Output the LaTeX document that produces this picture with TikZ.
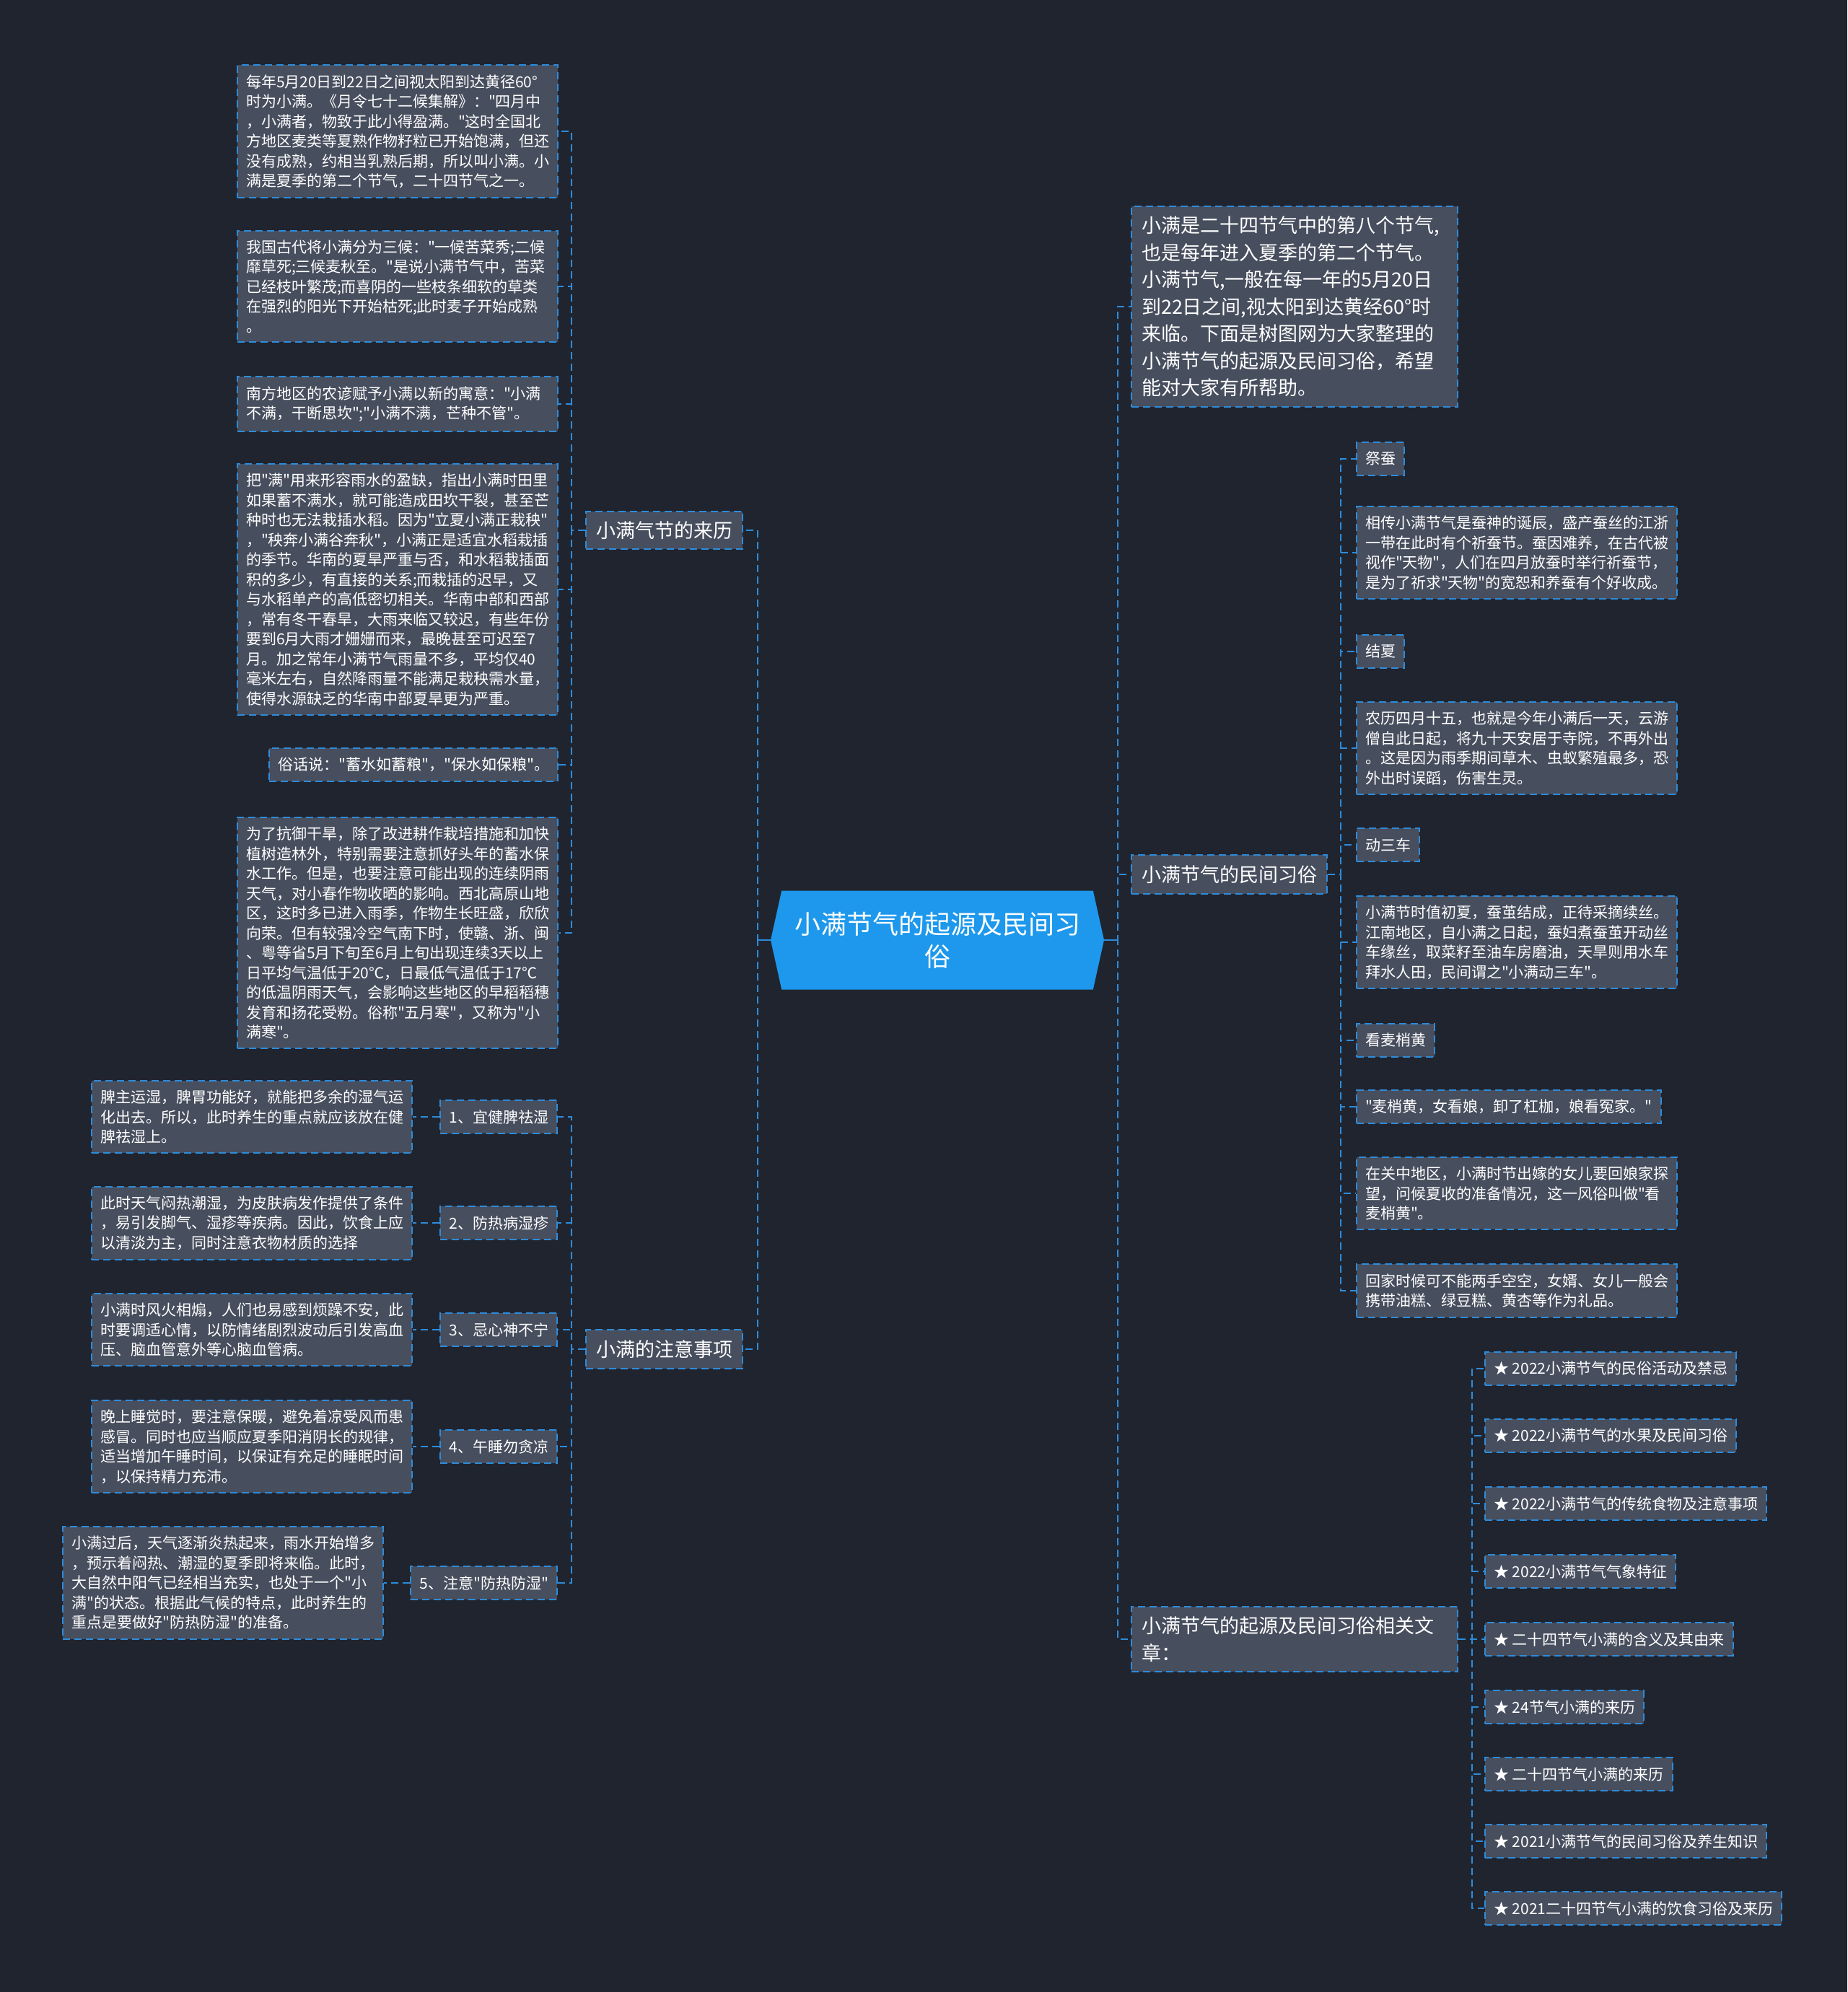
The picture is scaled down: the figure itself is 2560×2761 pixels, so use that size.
\documentclass[tikz,border=0pt]{standalone}
\usepackage{fontspec}
\setmainfont{Noto Sans CJK SC}[Ligatures=TeXOff]
\usepackage{tikz}
\usetikzlibrary{positioning,shapes.symbols}
\definecolor{mfundo}{HTML}{20242F}
\definecolor{mcaixa}{HTML}{474E5E}
\definecolor{mborda}{HTML}{2D8CDB}
\definecolor{mraiz}{HTML}{1D98EC}

\begin{document}
\begin{tikzpicture}[x=0.5pt, y=-0.5pt,
  leafbox/.style={draw=mborda, fill=mcaixa, line width=1pt, dash pattern=on 5pt off 3pt, text=white, font=\fontsize{10.5pt}{13.75pt}\selectfont, inner xsep=6pt, inner ysep=6.5pt, align=left},
  notebox/.style={leafbox, text width=210pt},
  topicbox/.style={leafbox, font=\fontsize{13.5pt}{18.75pt}\selectfont, inner xsep=7pt, inner ysep=7pt},
  widebox/.style={topicbox, text width=212pt},
  rootbox/.style={shape=signal, signal to=east and west, signal pointer angle=155, fill=mraiz, text=white, font=\fontsize{18pt}{22.5pt}\selectfont, align=center, minimum width=231pt, minimum height=68.5pt, inner sep=0pt},
  linkline/.style={draw=mborda, line width=1pt, dash pattern=on 5pt off 3pt}]
\fill[mfundo] (0,0) rectangle (2560,2761);
\useasboundingbox (0,0) rectangle (2560,2761);
% Raiz
\node[rootbox] (root) at (1299,1303) {小满节气的起源及民间习\\俗};
% Ramo esquerdo: origem
\node[topicbox, anchor=east] (origin) at (1030,735) {小满气节的来历};
\node[notebox, anchor=east] (o1) at (774,182) {每年5月20日到22日之间视太阳到达黄径60°\\时为小满。《月令七十二候集解》："四月中\\，小满者，物致于此小得盈满。"这时全国北\\方地区麦类等夏熟作物籽粒已开始饱满，但还\\没有成熟，约相当乳熟后期，所以叫小满。小\\满是夏季的第二个节气，二十四节气之一。};
\node[notebox, anchor=east] (o2) at (774,397) {我国古代将小满分为三候："一候苦菜秀;二候\\靡草死;三候麦秋至。"是说小满节气中，苦菜\\已经枝叶繁茂;而喜阴的一些枝条细软的草类\\在强烈的阳光下开始枯死;此时麦子开始成熟\\。};
\node[notebox, anchor=east] (o3) at (774,560) {南方地区的农谚赋予小满以新的寓意："小满\\不满，干断思坎";"小满不满，芒种不管"。};
\node[notebox, anchor=east] (o4) at (774,817) {把"满"用来形容雨水的盈缺，指出小满时田里\\如果蓄不满水，就可能造成田坎干裂，甚至芒\\种时也无法栽插水稻。因为"立夏小满正栽秧"\\，"秧奔小满谷奔秋"，小满正是适宜水稻栽插\\的季节。华南的夏旱严重与否，和水稻栽插面\\积的多少，有直接的关系;而栽插的迟早，又\\与水稻单产的高低密切相关。华南中部和西部\\，常有冬干春旱，大雨来临又较迟，有些年份\\要到6月大雨才姗姗而来，最晚甚至可迟至7\\月。加之常年小满节气雨量不多，平均仅40\\毫米左右，自然降雨量不能满足栽秧需水量，\\使得水源缺乏的华南中部夏旱更为严重。};
\node[leafbox, anchor=east] (o5) at (774,1060) {俗话说："蓄水如蓄粮"，"保水如保粮"。};
\node[notebox, anchor=east] (o6) at (774,1293) {为了抗御干旱，除了改进耕作栽培措施和加快\\植树造林外，特别需要注意抓好头年的蓄水保\\水工作。但是，也要注意可能出现的连续阴雨\\天气，对小春作物收晒的影响。西北高原山地\\区，这时多已进入雨季，作物生长旺盛，欣欣\\向荣。但有较强冷空气南下时，使赣、浙、闽\\、粤等省5月下旬至6月上旬出现连续3天以上\\日平均气温低于20℃，日最低气温低于17℃\\的低温阴雨天气，会影响这些地区的早稻稻穗\\发育和扬花受粉。俗称"五月寒"，又称为"小\\满寒"。};
% Ramo esquerdo: cuidados
\node[topicbox, anchor=east] (care) at (1030,1870) {小满的注意事项};
\node[leafbox, anchor=east] (q1) at (773,1548) {1、宜健脾祛湿};
\node[leafbox, anchor=east] (q2) at (773,1695) {2、防热病湿疹};
\node[leafbox, anchor=east] (q3) at (773,1843) {3、忌心神不宁};
\node[leafbox, anchor=east] (q4) at (773,2005) {4、午睡勿贪凉};
\node[leafbox, anchor=east] (q5) at (773,2194) {5、注意"防热防湿"};
\node[notebox, left=18.5pt of q1] (qt1) {脾主运湿，脾胃功能好，就能把多余的湿气运\\化出去。所以，此时养生的重点就应该放在健\\脾祛湿上。};
\node[notebox, left=18.5pt of q2] (qt2) {此时天气闷热潮湿，为皮肤病发作提供了条件\\，易引发脚气、湿疹等疾病。因此，饮食上应\\以清淡为主，同时注意衣物材质的选择};
\node[notebox, left=18.5pt of q3] (qt3) {小满时风火相煽，人们也易感到烦躁不安，此\\时要调适心情，以防情绪剧烈波动后引发高血\\压、脑血管意外等心脑血管病。};
\node[notebox, left=18.5pt of q4] (qt4) {晚上睡觉时，要注意保暖，避免着凉受风而患\\感冒。同时也应当顺应夏季阳消阴长的规律，\\适当增加午睡时间，以保证有充足的睡眠时间\\，以保持精力充沛。};
\node[notebox, left=18pt of q5] (qt5) {小满过后，天气逐渐炎热起来，雨水开始增多\\，预示着闷热、潮湿的夏季即将来临。此时，\\大自然中阳气已经相当充实，也处于一个"小\\满"的状态。根据此气候的特点，此时养生的\\重点是要做好"防热防湿"的准备。};
% Ramo direito
\node[widebox, anchor=west] (intro) at (1567,425) {小满是二十四节气中的第八个节气,\\也是每年进入夏季的第二个节气。\\小满节气,一般在每一年的5月20日\\到22日之间,视太阳到达黄经60°时\\来临。下面是树图网为大家整理的\\小满节气的起源及民间习俗，希望\\能对大家有所帮助。};
\node[topicbox, anchor=west] (custom) at (1567,1212) {小满节气的民间习俗};
\node[widebox, anchor=west] (related) at (1567,2272) {小满节气的起源及民间习俗相关文\\章：};
% Costumes
\node[leafbox, anchor=west] (c1) at (1879,636) {祭蚕};
\node[notebox, anchor=west] (c2) at (1879,766) {相传小满节气是蚕神的诞辰，盛产蚕丝的江浙\\一带在此时有个祈蚕节。蚕因难养，在古代被\\视作"天物"，人们在四月放蚕时举行祈蚕节，\\是为了祈求"天物"的宽恕和养蚕有个好收成。};
\node[leafbox, anchor=west] (c3) at (1879,903) {结夏};
\node[notebox, anchor=west] (c4) at (1879,1037) {农历四月十五，也就是今年小满后一天，云游\\僧自此日起，将九十天安居于寺院，不再外出\\。这是因为雨季期间草木、虫蚁繁殖最多，恐\\外出时误蹈，伤害生灵。};
\node[leafbox, anchor=west] (c5) at (1879,1171) {动三车};
\node[notebox, anchor=west] (c6) at (1879,1306) {小满节时值初夏，蚕茧结成，正待采摘续丝。\\江南地区，自小满之日起，蚕妇煮蚕茧开动丝\\车缘丝，取菜籽至油车房磨油，天旱则用水车\\拜水人田，民间谓之"小满动三车"。};
\node[leafbox, anchor=west] (c7) at (1879,1442) {看麦梢黄};
\node[leafbox, anchor=west] (c8) at (1879,1534) {"麦梢黄，女看娘，卸了杠枷，娘看冤家。"};
\node[notebox, anchor=west] (c9) at (1879,1654) {在关中地区，小满时节出嫁的女儿要回娘家探\\望，问候夏收的准备情况，这一风俗叫做"看\\麦梢黄"。};
\node[notebox, anchor=west] (c10) at (1879,1789) {回家时候可不能两手空空，女婿、女儿一般会\\携带油糕、绿豆糕、黄杏等作为礼品。};
% Artigos relacionados
\node[leafbox, anchor=west] (r1) at (2057,1897) {★ 2022小满节气的民俗活动及禁忌};
\node[leafbox, anchor=west] (r2) at (2057,1990) {★ 2022小满节气的水果及民间习俗};
\node[leafbox, anchor=west] (r3) at (2057,2084) {★ 2022小满节气的传统食物及注意事项};
\node[leafbox, anchor=west] (r4) at (2057,2178) {★ 2022小满节气气象特征};
\node[leafbox, anchor=west] (r5) at (2057,2272) {★ 二十四节气小满的含义及其由来};
\node[leafbox, anchor=west] (r6) at (2057,2366) {★ 24节气小满的来历};
\node[leafbox, anchor=west] (r7) at (2057,2459) {★ 二十四节气小满的来历};
\node[leafbox, anchor=west] (r8) at (2057,2552) {★ 2021小满节气的民间习俗及养生知识};
\node[leafbox, anchor=west] (r9) at (2057,2645) {★ 2021二十四节气小满的饮食习俗及来历};
% Ligações da raiz
\draw[mborda, line width=1pt] (root.west) -- ++(-18,0);
\draw[mborda, line width=1pt] (root.east) -- ++(19,0);
\draw[linkline] (root.west) -- ++(-18,0) |- (origin.east);
\draw[linkline] (root.west) -- ++(-18,0) |- (care.east);
\draw[linkline] (root.east) -- ++(19,0) |- (intro.west);
\draw[linkline] (root.east) -- ++(19,0) |- (custom.west);
\draw[linkline] (root.east) -- ++(19,0) |- (related.west);
% Ligações da origem
\draw[linkline] (origin.west) -- ++(-19,0) |- (o1.east);
\draw[linkline] (origin.west) -- ++(-19,0) |- (o2.east);
\draw[linkline] (origin.west) -- ++(-19,0) |- (o3.east);
\draw[linkline] (origin.west) -- ++(-19,0) |- (o4.east);
\draw[linkline] (origin.west) -- ++(-19,0) |- (o5.east);
\draw[linkline] (origin.west) -- ++(-19,0) |- (o6.east);
% Ligações dos cuidados
\draw[linkline] (care.west) -- ++(-19,0) |- (q1.east);
\draw[linkline] (care.west) -- ++(-19,0) |- (q2.east);
\draw[linkline] (care.west) -- ++(-19,0) |- (q3.east);
\draw[linkline] (care.west) -- ++(-19,0) |- (q4.east);
\draw[linkline] (care.west) -- ++(-19,0) |- (q5.east);
\draw[linkline] (q1) -- (qt1);
\draw[linkline] (q2) -- (qt2);
\draw[linkline] (q3) -- (qt3);
\draw[linkline] (q4) -- (qt4);
\draw[linkline] (q5) -- (qt5);
% Ligações dos costumes
\draw[linkline] (custom.east) -- ++(18,0) |- (c1.west);
\draw[linkline] (custom.east) -- ++(18,0) |- (c2.west);
\draw[linkline] (custom.east) -- ++(18,0) |- (c3.west);
\draw[linkline] (custom.east) -- ++(18,0) |- (c4.west);
\draw[linkline] (custom.east) -- ++(18,0) |- (c5.west);
\draw[linkline] (custom.east) -- ++(18,0) |- (c6.west);
\draw[linkline] (custom.east) -- ++(18,0) |- (c7.west);
\draw[linkline] (custom.east) -- ++(18,0) |- (c8.west);
\draw[linkline] (custom.east) -- ++(18,0) |- (c9.west);
\draw[linkline] (custom.east) -- ++(18,0) |- (c10.west);
% Ligações dos artigos
\draw[linkline] (related.east) -- ++(19,0) |- (r1.west);
\draw[linkline] (related.east) -- ++(19,0) |- (r2.west);
\draw[linkline] (related.east) -- ++(19,0) |- (r3.west);
\draw[linkline] (related.east) -- ++(19,0) |- (r4.west);
\draw[linkline] (related.east) -- ++(19,0) |- (r5.west);
\draw[linkline] (related.east) -- ++(19,0) |- (r6.west);
\draw[linkline] (related.east) -- ++(19,0) |- (r7.west);
\draw[linkline] (related.east) -- ++(19,0) |- (r8.west);
\draw[linkline] (related.east) -- ++(19,0) |- (r9.west);
\end{tikzpicture}
\end{document}
